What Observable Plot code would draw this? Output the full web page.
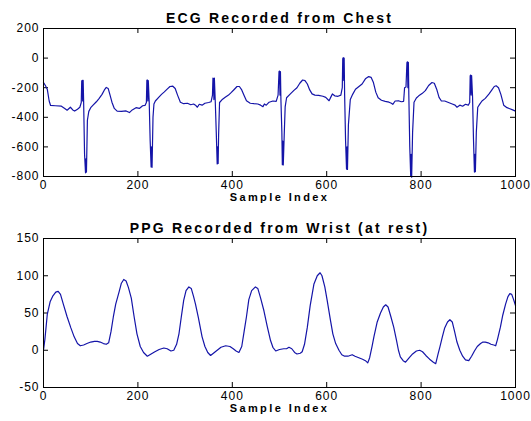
<!DOCTYPE html>
<html><head><meta charset="utf-8">
<script src="https://cdn.jsdelivr.net/npm/d3@7"></script>
<script src="https://cdn.jsdelivr.net/npm/@observablehq/plot@0.6"></script>
<style>
html,body{margin:0;padding:0;background:#fff;}
#chart svg{display:block;}
</style></head><body><div id="chart"></div>
<script>
const ecgX = [0,4,8,12,15,25,38,45,50,57,62,66,72,77,80,81,82,83,84,85,87,89,90,91,93,96,100,105,112,118,124,129,133,137,141,145,150,156,165,175,182,188,196,203,210,215,218,219,220,221,222,224,226,228,229,230,232,234,237,244,250,256,262,268,274,279,284,290,297,305,312,318,322,326,330,336,342,350,355,358,359,360,361,362,364,366,368,369,370,371,373,378,385,392,398,404,410,415,420,425,430,438,446,454,460,465,468,472,478,486,493,497,499,500,501,502,503,505,506,507,508,510,512,515,522,530,537,543,549,554,559,564,569,575,583,592,598,605,609,612,617,624,630,633,634,635,636,637,638,640,642,643,644,646,650,655,661,667,675,682,689,694,699,704,709,716,724,732,737,740,745,752,758,763,765,768,770,771,772,773,774,776,778,779,780,782,785,790,795,802,809,816,823,828,833,838,843,850,858,866,872,876,882,888,894,900,903,904,905,906,907,909,911,913,914,915,917,920,925,929,936,944,950,955,959,964,969,975,982,988,994,1000];
const ecgY = [-165,-185,-210,-290,-320,-322,-325,-340,-352,-332,-350,-358,-345,-332,-300,-155,-150,-290,-150,-290,-650,-775,-680,-770,-420,-360,-335,-318,-295,-272,-245,-215,-198,-205,-250,-298,-340,-358,-360,-357,-368,-350,-335,-340,-322,-320,-300,-150,-148,-290,-152,-300,-560,-735,-600,-738,-400,-310,-290,-265,-245,-228,-210,-192,-190,-205,-250,-298,-308,-305,-315,-310,-318,-332,-312,-318,-305,-300,-295,-250,-135,-140,-280,-135,-300,-500,-715,-600,-712,-520,-300,-282,-265,-250,-232,-212,-192,-192,-215,-252,-288,-305,-308,-310,-318,-328,-310,-318,-298,-290,-292,-250,-90,-88,-250,-92,-280,-500,-720,-560,-722,-520,-330,-268,-245,-220,-200,-170,-148,-152,-175,-215,-242,-250,-252,-258,-265,-288,-262,-242,-255,-258,-250,-200,-5,3,-150,0,-250,-560,-750,-600,-752,-450,-280,-245,-210,-195,-175,-140,-125,-130,-165,-230,-268,-285,-292,-298,-305,-312,-290,-288,-295,-292,-200,-195,-30,-25,-200,-28,-250,-600,-800,-650,-805,-500,-298,-270,-255,-240,-220,-185,-165,-170,-210,-265,-290,-290,-300,-310,-318,-332,-318,-325,-312,-318,-300,-120,-115,-250,-118,-260,-550,-770,-650,-768,-500,-332,-308,-290,-272,-242,-215,-192,-187,-200,-245,-318,-335,-342,-350,-358];

const ppgX = [0,3,8,14,20,26,31,36,42,50,58,65,72,78,85,92,100,108,114,120,127,133,138,143,148,153,160,165,170,175,180,186,192,198,205,212,220,228,236,245,255,262,270,276,282,287,292,297,302,308,313,318,322,328,336,342,348,354,360,368,376,386,395,402,408,414,420,425,430,435,441,449,454,460,467,474,481,486,492,500,509,515,520,526,532,537,544,548,553,559,565,573,580,586,590,596,601,608,613,619,626,632,638,645,654,660,668,676,682,687,691,696,700,707,714,720,725,730,736,742,748,752,756,762,767,775,782,790,797,803,810,818,826,831,836,840,845,850,856,861,866,871,876,882,888,894,901,907,913,919,926,931,936,942,948,954,958,962,968,973,979,984,988,992,996,1000];
const ppgY = [0,15,48,65,73,78,79,75,62,45,30,18,9,6,7,9,11,12,12,11,9,8,10,25,45,62,78,90,95,93,84,70,45,22,5,-3,-8,-5,-2,1,3,2,-1,0,8,22,45,67,80,85,83,72,62,44,18,5,-3,-7,-4,0,4,6,5,2,-1,-3,5,25,45,68,80,85,83,70,53,32,13,4,-1,1,2,2,4,2,-3,-5,-4,-2,8,31,60,89,100,104,100,85,67,40,22,9,0,-6,-8,-8,-6,-8,-10,-12,-14,-17,-10,5,18,38,50,58,61,58,45,31,13,0,-9,-14,-16,-10,-5,-1,0,-2,-7,-12,-16,-18,-5,5,18,30,38,41,38,25,11,0,-8,-13,-14,-8,-1,5,9,11,11,10,8,7,6,15,31,47,62,72,76,75,68,60];

const xTicks = [0,200,400,600,800,1000];
const ecgTicks = [-800,-600,-400,-200,0,200];
const ppgTicks = [-50,0,50,100,150];

function panel({title, xs, ys, yDomain, yTicks, height, mt, mb}) {
  const frameH = height - mt - mb;
  const frameW = 531 - 43 - 16;
  const data = xs.map((x, i) => ({x, y: ys[i]}));
  const svg = Plot.plot({
    width: 531, height, marginTop: mt, marginBottom: mb, marginLeft: 43, marginRight: 16,
    style: {fontFamily: "'Liberation Sans', Arial, sans-serif", fontSize: "12px", color: "#000", background: "#fff", letterSpacing: "1px"},
    x: {domain: [0, 1000], ticks: xTicks, tickSize: 0, tickPadding: 4, tickFormat: d => String(d), label: null},
    y: {domain: yDomain, ticks: yTicks, tickSize: 0, tickPadding: 4, tickFormat: d => String(d), label: null},
    marks: [
      Plot.tickX(xTicks, {x: d => d, insetTop: frameH - 5, stroke: "#000"}),
      Plot.tickX(xTicks, {x: d => d, insetBottom: frameH - 5, stroke: "#000"}),
      Plot.tickY(yTicks, {y: d => d, insetRight: frameW - 5, stroke: "#000"}),
      Plot.tickY(yTicks, {y: d => d, insetLeft: frameW - 5, stroke: "#000"}),
      Plot.line(data, {x: "x", y: "y", stroke: "#1414a8", strokeWidth: 1.2}),
      Plot.frame({stroke: "#000"}),
      Plot.text([title], {text: d => d, frameAnchor: "top", dy: -15, fontWeight: "bold", fontSize: 14, className: "ttl"}),
      Plot.text(["Sample Index"], {text: d => d, frameAnchor: "bottom", dy: 24.5, fontWeight: "bold", fontSize: 11, className: "xlab"})
    ]
  });
  svg.querySelectorAll(".ttl text").forEach(t => t.style.letterSpacing = "2.2px");
  svg.querySelectorAll(".xlab text").forEach(t => t.style.letterSpacing = "2.4px");
  return svg;
}

const chart = document.getElementById("chart");
chart.append(panel({title: "ECG Recorded from Chest", xs: ecgX, ys: ecgY, yDomain: [-800, 200], yTicks: ecgTicks, height: 210, mt: 28, mb: 34}));
chart.append(panel({title: "PPG Recorded from Wrist (at rest)", xs: ppgX, ys: ppgY, yDomain: [-50, 150], yTicks: ppgTicks, height: 211, mt: 28, mb: 34}));
</script></body></html>
